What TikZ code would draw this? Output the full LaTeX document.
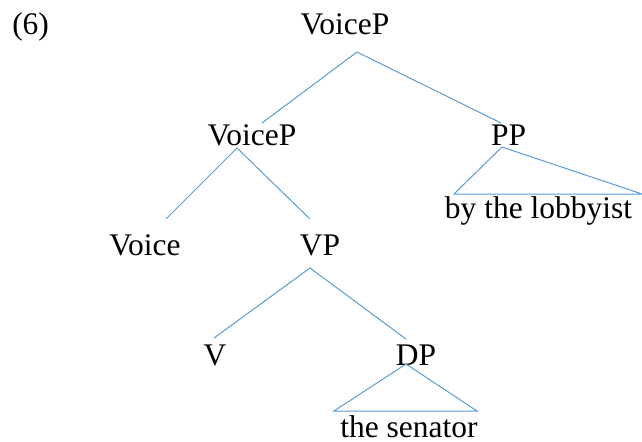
\documentclass[tikz,border=0pt]{standalone}
\usepackage{fontspec}
\setmainfont{Liberation Serif}
\usepackage{xcolor}
\definecolor{treeblue}{RGB}{91,155,213}

\begin{document}
\begin{tikzpicture}[x=0.75pt,y=0.75pt,yscale=-1,xscale=1,
  lbl/.style={anchor=base, inner sep=0.75pt, font=\fontsize{23.6}{28}\selectfont},
  branch/.style={color=treeblue, line width=0.75}]
\useasboundingbox (0,0) rectangle (642,442);

% Text Node
\draw (11,35) node [lbl, anchor=base west] (exnum) {(6)};
% Text Node
\draw (345,35) node [lbl] (voicepA) {VoiceP};
% Text Node
\draw (252,146) node [lbl] (voicepB) {VoiceP};
% Text Node
\draw (508.5,146) node [lbl] (pp) {PP};
% Text Node
\draw (145,255) node [lbl] (voice) {Voice};
% Text Node
\draw (320,255) node [lbl] (vp) {VP};
% Text Node
\draw (215,365) node [lbl] (v) {V};
% Text Node
\draw (416,365) node [lbl] (dp) {DP};
% Text Node
\draw (538.5,218) node [lbl] (lobbyist) {by the lobbyist};
% Text Node
\draw (409,437) node [lbl] (senator) {the senator};

% branch ends
\coordinate (voicepA-b) at (357,52);
\coordinate (voicepB-t) at (262,123);
\coordinate (pp-t) at (501,123);
\coordinate (voicepB-b) at (237,148);
\coordinate (voice-t) at (166,219);
\coordinate (vp-t) at (310,219);
\coordinate (vp-b) at (310,268);
\coordinate (v-t) at (214,338);
\coordinate (dp-t) at (406,339);
\coordinate (pp-b) at (502,147);
\coordinate (lobbyist-l) at (454,194);
\coordinate (lobbyist-r) at (642,194);
\coordinate (dp-b) at (406,364);
\coordinate (senator-l) at (334,411);
\coordinate (senator-r) at (477,411);

%Straight Lines
\draw [branch] (voicepB-t) -- (voicepA-b) -- (pp-t) ;
%Straight Lines
\draw [branch] (voice-t) -- (voicepB-b) -- (vp-t) ;
%Straight Lines
\draw [branch] (v-t) -- (vp-b) -- (dp-t) ;
%Shape: Triangle
\draw [branch] (pp-b) -- (lobbyist-l) -- (lobbyist-r) -- cycle ;
%Shape: Triangle
\draw [branch] (dp-b) -- (senator-l) -- (senator-r) -- cycle ;

\end{tikzpicture}
\end{document}
